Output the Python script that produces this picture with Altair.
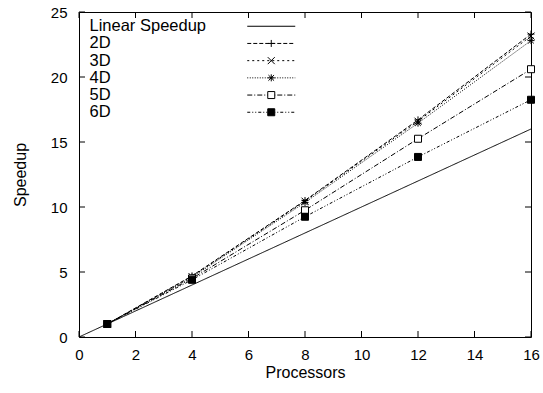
import re
import altair as alt
import pandas as pd

# ---- data ----
series_names = ["Linear Speedup", "2D", "3D", "4D", "5D", "6D"]
processors = [1, 4, 8, 12, 16]
linear_x = [0, 16]
linear_y = [0, 16]
speedup_2d = [1, 4.7, 10.5, 16.7, 23.3]
speedup_3d = [1, 4.65, 10.45, 16.6, 23.15]
speedup_4d = [1, 4.6, 10.35, 16.45, 22.8]
speedup_5d = [1, 4.5, 9.75, 15.25, 20.6]
speedup_6d = [1, 4.4, 9.25, 13.85, 18.25]
x_ticks = [0, 2, 4, 6, 8, 10, 12, 14, 16]
y_ticks = [0, 5, 10, 15, 20, 25]

rows = []
for xv, yv in zip(linear_x, linear_y):
    rows.append({"series": "Linear Speedup", "x": xv, "y": yv})
for name, vals in zip(series_names[1:], [speedup_2d, speedup_3d, speedup_4d, speedup_5d, speedup_6d]):
    for xv, yv in zip(processors, vals):
        rows.append({"series": name, "x": xv, "y": yv})
df = pd.DataFrame(rows)
pts = df[df["series"] != "Linear Speedup"]

# ---- styles ----
FONT = "Liberation Sans"
W, H = 452, 325
X_DOM = [0, 16]
Y_DOM = [0, 25]
dashes = {
    "Linear Speedup": [1, 0],
    "2D": [4, 2],
    "3D": [2, 3],
    "4D": [1, 1.5],
    "5D": [5, 2, 1, 2],
    "6D": [3, 2, 1, 2, 1, 2],
}
markers = {
    "2D": "M-1,0H1M0,-1V1",
    "3D": "M-1,-1L1,1M-1,1L1,-1",
    "4D": "M-1,0H1M0,-1V1M-0.8,-0.8L0.8,0.8M-0.8,0.8L0.8,-0.8",
    "5D": "M-1,-1H1V1H-1Z",
    "6D": "M-1,-1H1V1H-1Z",
}
fills = {"Linear Speedup": "white", "2D": "white", "3D": "white", "4D": "white", "5D": "white", "6D": "black"}

R = 3.5          # marker half size in px (size 49)
HALF = 24.0      # legend sample half length in px
SHIFT = 190.0    # legend sample drawn to the right of its label (px)


def shift_marker(path, dx):
    out = []
    for cmd, args in re.findall(r"([MLHVZ])([^MLHVZ]*)", path):
        nums = [float(v) for v in re.findall(r"-?\d*\.?\d+", args)]
        if cmd in "ML":
            out.append(f"{cmd}{nums[0] + dx:.3f},{nums[1]:.3f}")
        elif cmd == "H":
            out.append(f"H{nums[0] + dx:.3f}")
        elif cmd == "V":
            out.append(f"V{nums[0]:.3f}")
        else:
            out.append("Z")
    return "".join(out)


def sample_path(name):
    pat = dashes[name]
    skip = name in ("5D", "6D")
    if pat[1] == 0:
        segs = [(-HALF, HALF)]
    else:
        segs = []
        pos = -HALF
        i = 0
        while pos < HALF:
            length = pat[i % len(pat)]
            end = min(pos + length, HALF)
            if i % 2 == 0:
                a, b = pos, end
                if skip and b > -R and a < R:
                    if a < -R:
                        segs.append((a, -R))
                    if b > R:
                        segs.append((R, b))
                else:
                    segs.append((a, b))
            pos = end
            i += 1
    dx = SHIFT / R
    p = "".join(f"M{a / R + dx:.3f},0H{b / R + dx:.3f}" for a, b in segs)
    if name in markers:
        p += shift_marker(markers[name], dx)
    return p


legend_paths = [sample_path(n) for n in series_names]

x_scale = alt.Scale(domain=X_DOM, nice=False, zero=False)
y_scale = alt.Scale(domain=Y_DOM, nice=False, zero=False)

x_enc = alt.X("x:Q", scale=x_scale, title="Processors",
              axis=alt.Axis(values=x_ticks, grid=False, domain=False, ticks=False, tickSize=0,
                            labelFlush=False, labelOverlap=False,
                            labelPadding=10, labelFontSize=15, labelFont=FONT, labelColor="black",
                            titleFont=FONT, titleFontSize=16, titleFontWeight="normal", titleColor="black",
                            titleY=40, titleBaseline="alphabetic"))
y_enc = alt.Y("y:Q", scale=y_scale, title="Speedup",
              axis=alt.Axis(values=y_ticks, grid=False, domain=False, ticks=False, tickSize=0,
                            labelFlush=False, labelOverlap=False,
                            labelPadding=12, labelFontSize=15, labelFont=FONT, labelColor="black",
                            titleFont=FONT, titleFontSize=16, titleFontWeight="normal", titleColor="black",
                            titleX=-54, titleBaseline="alphabetic"))

lines = alt.Chart(df).mark_line(color="black", strokeWidth=1).encode(
    x=x_enc, y=y_enc,
    strokeDash=alt.StrokeDash("series:N", scale=alt.Scale(domain=series_names,
                                                          range=[dashes[n] for n in series_names]),
                              legend=None),
)

points = alt.Chart(pts).mark_point(stroke="black", strokeWidth=1, opacity=1, fillOpacity=1, size=49).encode(
    x=alt.X("x:Q", scale=x_scale),
    y=alt.Y("y:Q", scale=y_scale),
    shape=alt.Shape("series:N", scale=alt.Scale(domain=series_names[1:],
                                                range=[markers[n] for n in series_names[1:]]), legend=None),
    fill=alt.Fill("series:N", scale=alt.Scale(domain=series_names[1:],
                                              range=[fills[n] for n in series_names[1:]]), legend=None),
)

legend_spec = alt.Legend(orient="none", legendX=-6, legendY=6, title=None,
                         labelFont=FONT, labelFontSize=16.5, labelColor="black",
                         labelOffset=0, symbolSize=49, symbolStrokeColor="black",
                         symbolStrokeWidth=1, rowPadding=0.2, padding=0)

legend_layer = alt.Chart(df).transform_filter("datum.x < 0").mark_point(
    strokeWidth=1, opacity=1, fillOpacity=1, filled=True, size=49).encode(
    x=alt.X("x:Q", scale=x_scale),
    y=alt.Y("y:Q", scale=y_scale),
    shape=alt.Shape("series:N", scale=alt.Scale(domain=series_names, range=legend_paths),
                    legend=legend_spec),
    fill=alt.Fill("series:N", scale=alt.Scale(domain=series_names, range=[fills[n] for n in series_names]),
                  legend=legend_spec),
    stroke=alt.Stroke("series:N", scale=alt.Scale(domain=series_names, range=["black"] * len(series_names)),
                      legend=legend_spec),
)

# inward gnuplot-style ticks on all four sides (tick length 6px, converted to data units)
TL = 6
TLX = TL * (X_DOM[1] - X_DOM[0]) / W
TLY = TL * (Y_DOM[1] - Y_DOM[0]) / H
tick_rows = []
k = 0
for t in x_ticks:
    for (a, b) in [((t, Y_DOM[0]), (t, Y_DOM[0] + TLY)), ((t, Y_DOM[1]), (t, Y_DOM[1] - TLY))]:
        tick_rows.append({"tid": k, "ord": 0, "tx": a[0], "ty": a[1]})
        tick_rows.append({"tid": k, "ord": 1, "tx": b[0], "ty": b[1]})
        k += 1
for t in y_ticks:
    for (a, b) in [((X_DOM[0], t), (X_DOM[0] + TLX, t)), ((X_DOM[1], t), (X_DOM[1] - TLX, t))]:
        tick_rows.append({"tid": k, "ord": 0, "tx": a[0], "ty": a[1]})
        tick_rows.append({"tid": k, "ord": 1, "tx": b[0], "ty": b[1]})
        k += 1
tick_df = pd.DataFrame(tick_rows)

ticks = alt.Chart(tick_df).mark_line(color="black", strokeWidth=1).encode(
    x=alt.X("tx:Q", scale=x_scale),
    y=alt.Y("ty:Q", scale=y_scale),
    detail="tid:N",
    order="ord:Q",
)

chart = alt.layer(lines, points, legend_layer, ticks).resolve_scale(
    shape="independent", fill="independent", stroke="independent"
).properties(
    width=W, height=H, autosize="none",
    padding={"left": 79, "top": 12, "right": 12, "bottom": 56},
    background="white",
).configure_view(stroke="black", strokeWidth=1)

chart.save("out.html", embed_options={"renderer": "svg", "actions": False})
